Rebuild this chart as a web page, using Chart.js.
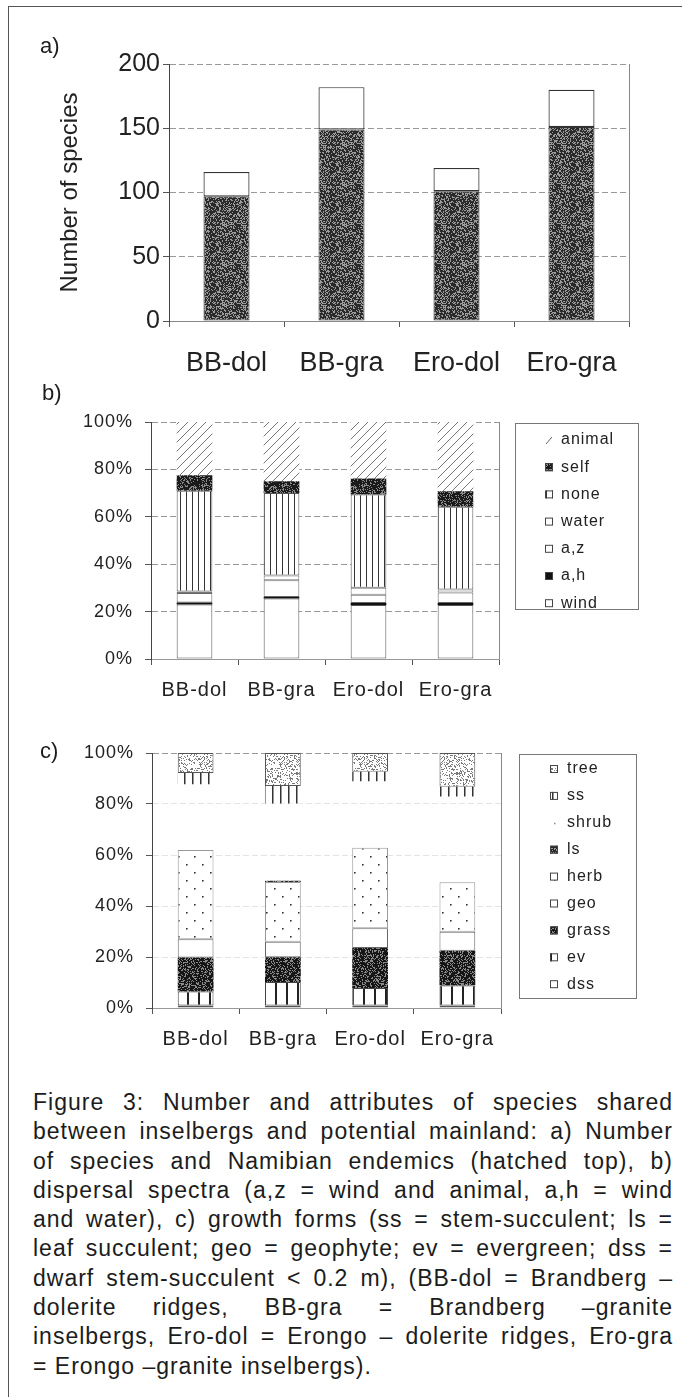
<!DOCTYPE html>
<html><head><meta charset="utf-8">
<script src="https://cdn.jsdelivr.net/npm/chart.js@4.4.1/dist/chart.umd.min.js"></script>
<style>
html,body{margin:0;padding:0;background:#fff;}
body{width:682px;height:1397px;position:relative;overflow:hidden;font-family:"Liberation Sans",Arial,sans-serif;color:#1c1c1c;}
canvas{position:absolute;left:0;}
.lab{position:absolute;font-size:22px;line-height:26px;}
#frameL{position:absolute;left:8px;top:6px;width:1px;height:1391px;background:#555;}
#frameT{position:absolute;left:8px;top:6px;width:674px;height:1px;background:#555;}
#cap{position:absolute;left:33px;top:1088px;width:640px;font-size:23px;line-height:29.3px;letter-spacing:1px;}
#cap div{text-align:justify;text-align-last:justify;}
#cap div.last{text-align-last:left;}
</style></head><body>
<div id="frameL"></div><div id="frameT"></div>
<canvas id="ca" width="682" height="385" style="top:0px"></canvas>
<canvas id="cb" width="682" height="325" style="top:385px"></canvas>
<canvas id="cc" width="682" height="350" style="top:710px"></canvas>
<div class="lab" style="left:40px;top:33px;">a)</div>
<div class="lab" style="left:42px;top:380px;">b)</div>
<div class="lab" style="left:40px;top:738px;">c)</div>
<div id="cap">
<div>Figure 3: Number and attributes of species shared</div>
<div>between inselbergs and potential mainland: a) Number</div>
<div>of species and Namibian endemics (hatched top), b)</div>
<div>dispersal spectra (a,z = wind and animal, a,h = wind</div>
<div>and water), c) growth forms (ss = stem-succulent; ls =</div>
<div>leaf succulent; geo = geophyte; ev = evergreen; dss =</div>
<div>dwarf stem-succulent &lt; 0.2 m), (BB-dol = Brandberg –</div>
<div>dolerite ridges, BB-gra = Brandberg –granite</div>
<div>inselbergs, Ero-dol = Erongo – dolerite ridges, Ero-gra</div>
<div class="last">= Erongo –granite inselbergs).</div>
</div>
<script>
// ---------- data ----------
const categories = ['BB-dol', 'BB-gra', 'Ero-dol', 'Ero-gra'];
const speciesTickStep = 50;
const speciesMax = 200;
const sharedOther = [97, 149, 101, 151];
const sharedEndemic = [19, 33, 18, 29];

const pctTickStep = 20;
const dispLabels = ['wind', 'a,h', 'a,z', 'water', 'none', 'self', 'animal'];
const dispWind   = [23.0, 25.5, 22.8, 22.8];
const dispAH     = [0.8, 0.7, 0.8, 0.8];
const dispAZ     = [4.0, 7.0, 3.5, 4.5];
const dispWater  = [0.7, 2.0, 3.0, 1.2];
const dispNone   = [42.5, 34.8, 39.3, 34.9];
const dispSelf   = [6.5, 5.0, 6.8, 6.6];
const dispAnimal = [22.5, 25.0, 23.8, 29.2];

const gfLabels = ['dss', 'ev', 'grass', 'geo', 'herb', 'ls', 'shrub', 'ss', 'tree'];
const gfDss   = [1.0, 1.0, 1.0, 1.0];
const gfEv    = [5.5, 9.2, 6.8, 7.8];
const gfGrass = [13.3, 9.7, 15.7, 13.7];
const gfGeo   = [7.2, 6.1, 7.8, 7.4];
const gfHerb  = [35.0, 23.4, 31.5, 19.4];
const gfLs    = [0.0, 0.5, 0.0, 0.0];
const gfShrub = [25.7, 30.3, 26.1, 33.6];
const gfSs    = [4.5, 6.9, 3.7, 3.9];
const gfTree  = [7.8, 12.9, 7.4, 13.2];

// ---------- caption font: prefer a narrow face if installed ----------
(function () {
  const m = document.createElement('canvas').getContext('2d');
  m.font = '40px monospace'; const w0 = m.measureText('Brandberg inselbergs').width;
  m.font = '40px "Liberation Sans Narrow", monospace'; const w1 = m.measureText('Brandberg inselbergs').width;
  if (Math.abs(w1 - w0) > 1) {
    const cap = document.getElementById('cap');
    cap.style.fontFamily = '"Liberation Sans Narrow", "Liberation Sans", sans-serif';
    cap.style.fontSize = '24px';
    cap.style.letterSpacing = '1.6px';
  }
})();

// ---------- textures ----------
const F = '"Liberation Sans", Arial, sans-serif';
function mk(w, h) { const c = document.createElement('canvas'); c.width = w; c.height = h; return c; }
function seq(seed) { let s = seed >>> 0; return () => { s = (Math.imul(s, 1664525) + 1013904223) >>> 0; return s / 4294967296; }; }
function stipple(ctx, base, speck, density, seed) {
  const n = 40, c = mk(n, n), g = c.getContext('2d');
  g.fillStyle = base; g.fillRect(0, 0, n, n);
  const r = seq(seed); g.fillStyle = speck;
  for (let y = 0; y < n; y++) for (let x = 0; x < n; x++) if (r() < density) g.fillRect(x, y, 1, 1);
  return ctx.createPattern(c, 'repeat');
}
function vlines(ctx, sp, lw, col) {
  const c = mk(sp, 4), g = c.getContext('2d');
  g.fillStyle = '#fff'; g.fillRect(0, 0, sp, 4);
  g.fillStyle = col; g.fillRect(0, 0, lw, 4);
  return ctx.createPattern(c, 'repeat');
}
function hatch(ctx, sp, col) {
  const c = mk(sp, sp), g = c.getContext('2d');
  g.fillStyle = '#fff'; g.fillRect(0, 0, sp, sp);
  g.strokeStyle = col; g.lineWidth = 1;
  g.beginPath(); g.moveTo(-1, sp + 1); g.lineTo(sp + 1, -1);
  g.moveTo(-1, 1); g.lineTo(1, -1); g.moveTo(sp - 1, sp + 1); g.lineTo(sp + 1, sp - 1); g.stroke();
  return ctx.createPattern(c, 'repeat');
}
function dots(ctx, sp, col) {
  const c = mk(sp * 2, sp * 2), g = c.getContext('2d');
  g.fillStyle = '#fff'; g.fillRect(0, 0, sp * 2, sp * 2);
  g.fillStyle = col; g.fillRect(2, 2, 1.6, 1.6); g.fillRect(sp + 2, sp + 2, 1.6, 1.6);
  return ctx.createPattern(c, 'repeat');
}

// ---------- plugins ----------
const spacing = {
  id: 'spacing',
  beforeLayout(chart, a, o) { chart.ctx.letterSpacing = (o.px || 0) + 'px'; },
  beforeDraw(chart, a, o) { chart.ctx.letterSpacing = (o.px || 0) + 'px'; }
};
const frameRight = {
  id: 'frameRight',
  afterDraw(chart, a, o) {
    const {ctx, chartArea: ca} = chart;
    ctx.save(); ctx.strokeStyle = o.color || '#777'; ctx.lineWidth = 1; ctx.setLineDash([]);
    ctx.beginPath(); ctx.moveTo(Math.round(ca.right) + 0.5, ca.top); ctx.lineTo(Math.round(ca.right) + 0.5, ca.bottom); ctx.stroke();
    ctx.restore();
  }
};
const boxLegend = {
  id: 'boxLegend',
  afterDraw(chart, a, o) {
    if (!o || !o.w) return;
    const ctx = chart.ctx; ctx.save();
    ctx.setLineDash([]); ctx.strokeStyle = '#777'; ctx.lineWidth = 1;
    ctx.strokeRect(o.x + 0.5, o.y + 0.5, o.w, o.h);
    ctx.font = o.font; ctx.textBaseline = 'middle'; ctx.textAlign = 'left'; ctx.fillStyle = '#222';
    const ds = chart.data.datasets.slice().reverse();
    ds.forEach((d, i) => {
      const cy = o.y0 + i * o.step;
      const kind = d.marker || 'box';
      if (kind === 'slash') {
        ctx.strokeStyle = '#666'; ctx.beginPath(); ctx.moveTo(o.mx + 1, cy + 4); ctx.lineTo(o.mx + 7, cy - 3); ctx.stroke();
      } else if (kind === 'dot') {
        ctx.fillStyle = '#888'; ctx.fillRect(o.mx + 4, cy, 1.5, 1.5);
      } else {
        ctx.fillStyle = d.backgroundColor; ctx.fillRect(o.mx, cy - 4, 8, 8);
        ctx.strokeStyle = '#444'; ctx.strokeRect(o.mx + 0.5, cy - 3.5, 7, 7);
      }
      ctx.fillStyle = '#222';
      ctx.fillText(d.label, o.tx, cy);
    });
    ctx.restore();
  }
};

function seg(label, data, bg, bw, bc, extra) {
  return Object.assign({label, data, backgroundColor: bg, borderWidth: bw, borderColor: bc || '#555', borderSkipped: false,
    barPercentage: 0.41, categoryPercentage: 1.0}, extra || {});
}

// ---------- chart a ----------
const ctxA = document.getElementById('ca').getContext('2d');
const darkA = stipple(ctxA, '#2a2a2a', '#9c9c9c', 0.36, 7);
new Chart(ctxA, {
  type: 'bar',
  data: {labels: categories, datasets: [
    seg('Shared species', sharedOther, darkA, 1, '#333', {barPercentage: 0.4}),
    seg('Namibian endemics', sharedEndemic, '#ffffff', 1.2, '#333', {barPercentage: 0.4})
  ]},
  plugins: [frameRight],
  options: {
    responsive: false, animation: false, events: [],
    layout: {padding: {left: 0, right: 53, top: 64, bottom: 0}},
    plugins: {legend: {display: false}, tooltip: {enabled: false}, frameRight: {color: '#888'}},
    scales: {
      x: {stacked: true,
        ticks: {font: {family: F, size: 27}, color: '#222', padding: 20, maxRotation: 0, autoSkip: false},
        grid: {display: true, drawOnChartArea: false, offset: true, tickLength: 6, color: '#555',
               tickColor: c => (c.index >= categories.length ? 'rgba(0,0,0,0)' : '#555')},
        border: {display: true, color: '#888', width: 1},
        afterFit(s) { s.height = 64; }},
      y: {stacked: true, min: 0, max: speciesMax,
        ticks: {stepSize: speciesTickStep, font: {family: F, size: 25}, color: '#222', padding: 3},
        grid: {color: '#999', tickLength: 6, tickColor: '#555', lineWidth: 1},
        border: {display: true, color: '#444', width: 1, dash: [6, 3]},
        title: {display: true, text: 'Number of species', font: {family: F, size: 24}, color: '#222', padding: {top: 56, bottom: 0}},
        afterFit(s) { s.width = 169; }}
    }
  }
});

// ---------- chart b ----------
const ctxB = document.getElementById('cb').getContext('2d');
const selfP = stipple(ctxB, '#1a1a1a', '#8a8a8a', 0.3, 11);
const noneP = vlines(ctxB, 6, 1, '#333');
const animalP = hatch(ctxB, 9, '#777');
const pctTick = v => v + '%';
new Chart(ctxB, {
  type: 'bar',
  data: {labels: categories, datasets: [
    seg(dispLabels[0], dispWind, '#ffffff', 1, '#555'),
    seg(dispLabels[1], dispAH, '#111111', 0, '#111'),
    seg(dispLabels[2], dispAZ, '#ffffff', 1, '#666'),
    seg(dispLabels[3], dispWater, '#ffffff', 1, '#777'),
    seg(dispLabels[4], dispNone, noneP, 1, '#555'),
    seg(dispLabels[5], dispSelf, selfP, 0, '#222'),
    seg(dispLabels[6], dispAnimal, animalP, 0, '#777', {marker: 'slash'})
  ]},
  plugins: [spacing, frameRight, boxLegend],
  options: {
    responsive: false, animation: false, events: [],
    layout: {padding: {left: 0, right: 183, top: 37, bottom: 0}},
    plugins: {legend: {display: false}, tooltip: {enabled: false}, spacing: {px: 1}, frameRight: {color: '#888'},
      boxLegend: {x: 515, y: 38, w: 123, h: 186, y0: 55, step: 27.2, mx: 545, tx: 561, font: '16px ' + F}},
    scales: {
      x: {stacked: true,
        ticks: {font: {family: F, size: 20}, color: '#222', padding: 13, maxRotation: 0, autoSkip: false},
        grid: {display: true, drawOnChartArea: false, offset: true, tickLength: 6, color: '#555',
               tickColor: c => (c.index >= categories.length ? 'rgba(0,0,0,0)' : '#555')},
        border: {display: true, color: '#999', width: 1},
        afterFit(s) { s.height = 51; }},
      y: {stacked: true, min: 0, max: 100,
        ticks: {stepSize: pctTickStep, callback: pctTick, font: {family: F, size: 18}, color: '#222', padding: 12},
        grid: {color: '#999', tickLength: 6, tickColor: '#555', lineWidth: 1},
        border: {display: true, color: '#444', width: 1, dash: [6, 3]},
        afterFit(s) { s.width = 151; }}
    }
  }
});

// ---------- chart c ----------
const ctxC = document.getElementById('cc').getContext('2d');
const grassP = stipple(ctxC, '#161616', '#8a8a8a', 0.3, 23);
const lsP = stipple(ctxC, '#2a2a2a', '#999', 0.35, 31);
const treeP = stipple(ctxC, '#ffffff', '#7a7a7a', 0.26, 41);
const ssP = vlines(ctxC, 8, 1.5, '#333');
const evP = vlines(ctxC, 11, 2, '#222');
const herbP = dots(ctxC, 8, '#333');
const dssP = dots(ctxC, 12, '#555');
new Chart(ctxC, {
  type: 'bar',
  data: {labels: categories, datasets: [
    seg(gfLabels[0], gfDss, dssP, 1, '#555'),
    seg(gfLabels[1], gfEv, evP, 1, '#444'),
    seg(gfLabels[2], gfGrass, grassP, 0, '#222'),
    seg(gfLabels[3], gfGeo, '#ffffff', 1, '#666'),
    seg(gfLabels[4], gfHerb, herbP, 1, '#999'),
    seg(gfLabels[5], gfLs, lsP, 0, '#222'),
    seg(gfLabels[6], gfShrub, 'rgba(255,255,255,0)', 0, '#fff', {marker: 'dot'}),
    seg(gfLabels[7], gfSs, ssP, 0, '#444'),
    seg(gfLabels[8], gfTree, treeP, 1, '#555')
  ]},
  plugins: [spacing, frameRight, boxLegend],
  options: {
    responsive: false, animation: false, events: [],
    layout: {padding: {left: 0, right: 181, top: 43, bottom: 0}},
    plugins: {legend: {display: false}, tooltip: {enabled: false}, spacing: {px: 1}, frameRight: {color: '#888'},
      boxLegend: {x: 519, y: 44, w: 117, h: 244, y0: 59, step: 26.9, mx: 550, tx: 567, font: '16px ' + F}},
    scales: {
      x: {stacked: true,
        ticks: {font: {family: F, size: 20}, color: '#222', padding: 13, maxRotation: 0, autoSkip: false},
        grid: {display: true, drawOnChartArea: false, offset: true, tickLength: 6, color: '#555',
               tickColor: c => (c.index >= categories.length ? 'rgba(0,0,0,0)' : '#555')},
        border: {display: true, color: '#999', width: 1},
        afterFit(s) { s.height = 52; }},
      y: {stacked: true, min: 0, max: 100,
        ticks: {stepSize: pctTickStep, callback: pctTick, font: {family: F, size: 18}, color: '#222', padding: 12},
        grid: {color: c => (c.tick && c.tick.value === 100 ? '#999' : '#e4e4e4'), tickLength: 6, tickColor: '#555', lineWidth: 1},
        border: {display: true, color: '#444', width: 1, dash: [6, 3]},
        afterFit(s) { s.width = 152; }}
    }
  }
});
</script>
</body></html>
